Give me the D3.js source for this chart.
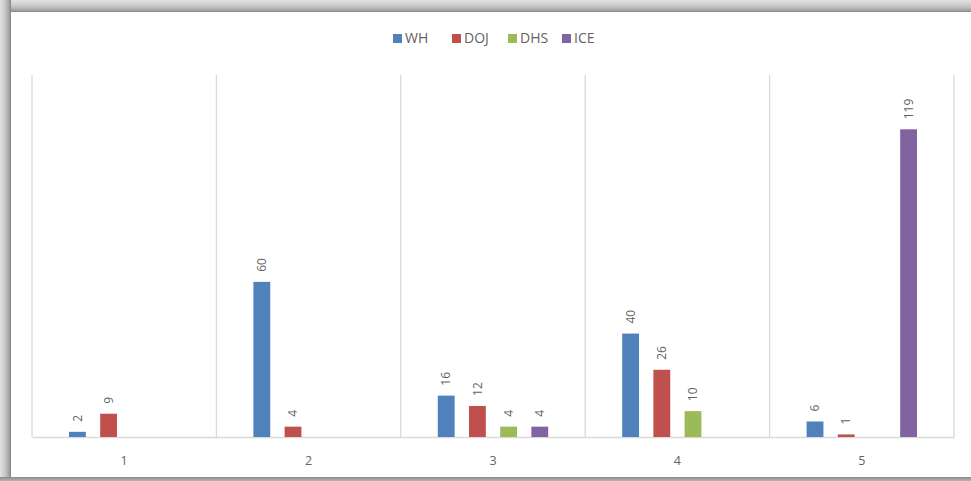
<!DOCTYPE html>
<html><head><meta charset="utf-8">
<script src="https://cdn.jsdelivr.net/npm/d3@7"></script>
<style>body{margin:0;background:#fff}svg{display:block}text{font-family:"Open Sans","Noto Sans",sans-serif;fill:#636363}</style>
</head><body>
<script>
const categories = ["1","2","3","4","5"];
const seriesNames = ["WH","DOJ","DHS","ICE"];
const WH  = [2, 60, 16, 40, 6];
const DOJ = [9, 4, 12, 26, 1];
const DHS = [null, null, 4, 10, null];
const ICE = [null, null, 4, null, 119];
const colors = ["#4F81BD","#C0504D","#9BBB59","#8064A2"];
const seriesValues = [WH, DOJ, DHS, ICE];

const W = 971, H = 481;
const svg = d3.select("body").append("svg").attr("width", W).attr("height", H);
const defs = svg.append("defs");
const gl = defs.append("linearGradient").attr("id","gl").attr("x1","0").attr("x2","1").attr("y1","0").attr("y2","0");
gl.append("stop").attr("offset","0").attr("stop-color","#e2e2e2");
gl.append("stop").attr("offset","0.5").attr("stop-color","#c4c4c4");
gl.append("stop").attr("offset","0.85").attr("stop-color","#a0a0a0");
gl.append("stop").attr("offset","1").attr("stop-color","#808080");
const gt = defs.append("linearGradient").attr("id","gt").attr("x1","0").attr("x2","0").attr("y1","0").attr("y2","1");
gt.append("stop").attr("offset","0").attr("stop-color","#e2e2e2");
gt.append("stop").attr("offset","0.5").attr("stop-color","#c8c8c8");
gt.append("stop").attr("offset","0.85").attr("stop-color","#a4a4a4");
gt.append("stop").attr("offset","1").attr("stop-color","#858585");
const gb = defs.append("linearGradient").attr("id","gb").attr("x1","0").attr("x2","0").attr("y1","0").attr("y2","1");
gb.append("stop").attr("offset","0").attr("stop-color","#8a8a8a");
gb.append("stop").attr("offset","1").attr("stop-color","#b5b5b5");

// frame
svg.append("rect").attr("x",0).attr("y",0).attr("width",W).attr("height",12).attr("fill","url(#gt)");
svg.append("rect").attr("x",0).attr("y",0).attr("width",11).attr("height",H).attr("fill","url(#gl)");
svg.append("rect").attr("x",0).attr("y",477).attr("width",W).attr("height",4).attr("fill","url(#gb)");

const x0 = d3.scaleBand().domain(categories).range([32, 954]).paddingInner(0).paddingOuter(0);
const x1 = d3.scaleBand().domain(seriesNames).range([37, x0.bandwidth() - 37]).paddingInner(0.46).paddingOuter(0);
const y = d3.scaleLinear().domain([0, 140]).range([437, 75]);

const g = svg.append("g");
const bounds = categories.map(c => x0(c)).concat([x0.range()[1]]);
g.selectAll("line.grid").data(bounds).enter().append("line")
  .attr("x1", d => d).attr("x2", d => d).attr("y1", y(140)).attr("y2", y(0))
  .attr("stroke", "#d9d9d9").attr("stroke-width", 1.3);
const xAxis = d3.axisBottom(x0).tickSize(0).tickPadding(19);
const ax = g.append("g").attr("transform", `translate(0,${y(0)})`).call(xAxis);
ax.select(".domain").attr("stroke", "#d9d9d9").attr("stroke-width", 1.3);
ax.selectAll("text").style("font-size", "12.5px").style("fill", "#636363").attr("font-family", null);

categories.forEach((c, ci) => {
  seriesNames.forEach((s, si) => {
    const v = seriesValues[si][ci];
    if (v === null) return;
    const bx = x0(c) + x1(s);
    g.append("rect").attr("x", bx).attr("y", y(v)).attr("width", x1.bandwidth()).attr("height", y(0) - y(v)).attr("fill", colors[si]);
    const cx = bx + x1.bandwidth() / 2, ty = y(v) - 10;
    g.append("text").attr("transform", `translate(${cx},${ty}) rotate(-90)`)
      .attr("dy", "0.35em").attr("text-anchor", "start").style("font-size", "12px").text(v);
  });
});

const legendX = [393, 452, 508, 562];
const lg = svg.append("g");
seriesNames.forEach((s, i) => {
  lg.append("rect").attr("x", legendX[i]).attr("y", 34).attr("width", 9).attr("height", 9).attr("fill", colors[i]);
  lg.append("text").attr("x", legendX[i] + 12).attr("y", 38.5).attr("dy", "0.35em").style("font-size", "14px").text(s);
});
</script>
</body></html>
